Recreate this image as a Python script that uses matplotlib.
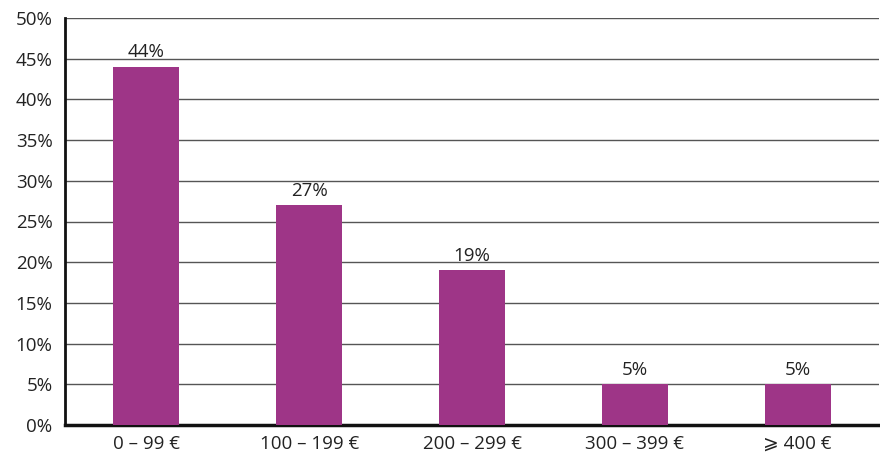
import matplotlib
matplotlib.use("Agg")
import matplotlib.pyplot as plt
from matplotlib.ticker import FuncFormatter

categories = ["0 – 99 €", "100 – 199 €", "200 – 299 €", "300 – 399 €", "⩾ 400 €"]
values = [44, 27, 19, 5, 5]
yticks = list(range(0, 51, 5))

plt.rcParams['font.family'] = ['Open Sans', 'DejaVu Sans']

fig = plt.figure(figsize=(8.8, 4.57), dpi=100)
ax = fig.add_axes([65/880, 1-425/457, 1-65/880-0.001, (425-18)/457])

x = range(len(categories))
bars = ax.bar(x, values, width=0.405, color="#9E3587", zorder=3)
for xi, v in zip(x, values):
    ax.text(xi, v + 0.7, f"{v}%", ha="center", va="bottom", fontsize=13.5, color="#222222", zorder=4)

ax.set_xlim(-0.5, len(categories) - 0.5)
ax.set_ylim(0, 50)
ax.set_yticks(yticks)
ax.yaxis.set_major_formatter(FuncFormatter(lambda v, p: f"{int(v)}%"))
ax.set_xticks(list(x))
ax.set_xticklabels(categories)
ax.tick_params(axis='both', length=0, labelsize=13.5, colors="#222222")
ax.tick_params(axis='x', pad=7)
ax.tick_params(axis='y', pad=9)
ax.yaxis.grid(True, color="#555555", linewidth=1.0, zorder=0)
ax.set_axisbelow(True)
for s in ["top", "right"]:
    ax.spines[s].set_visible(False)
ax.spines["left"].set_linewidth(2)
ax.spines["bottom"].set_linewidth(2.5)
ax.spines["left"].set_color("#111111")
ax.spines["bottom"].set_color("#111111")

fig.savefig("out.png", dpi=100)
